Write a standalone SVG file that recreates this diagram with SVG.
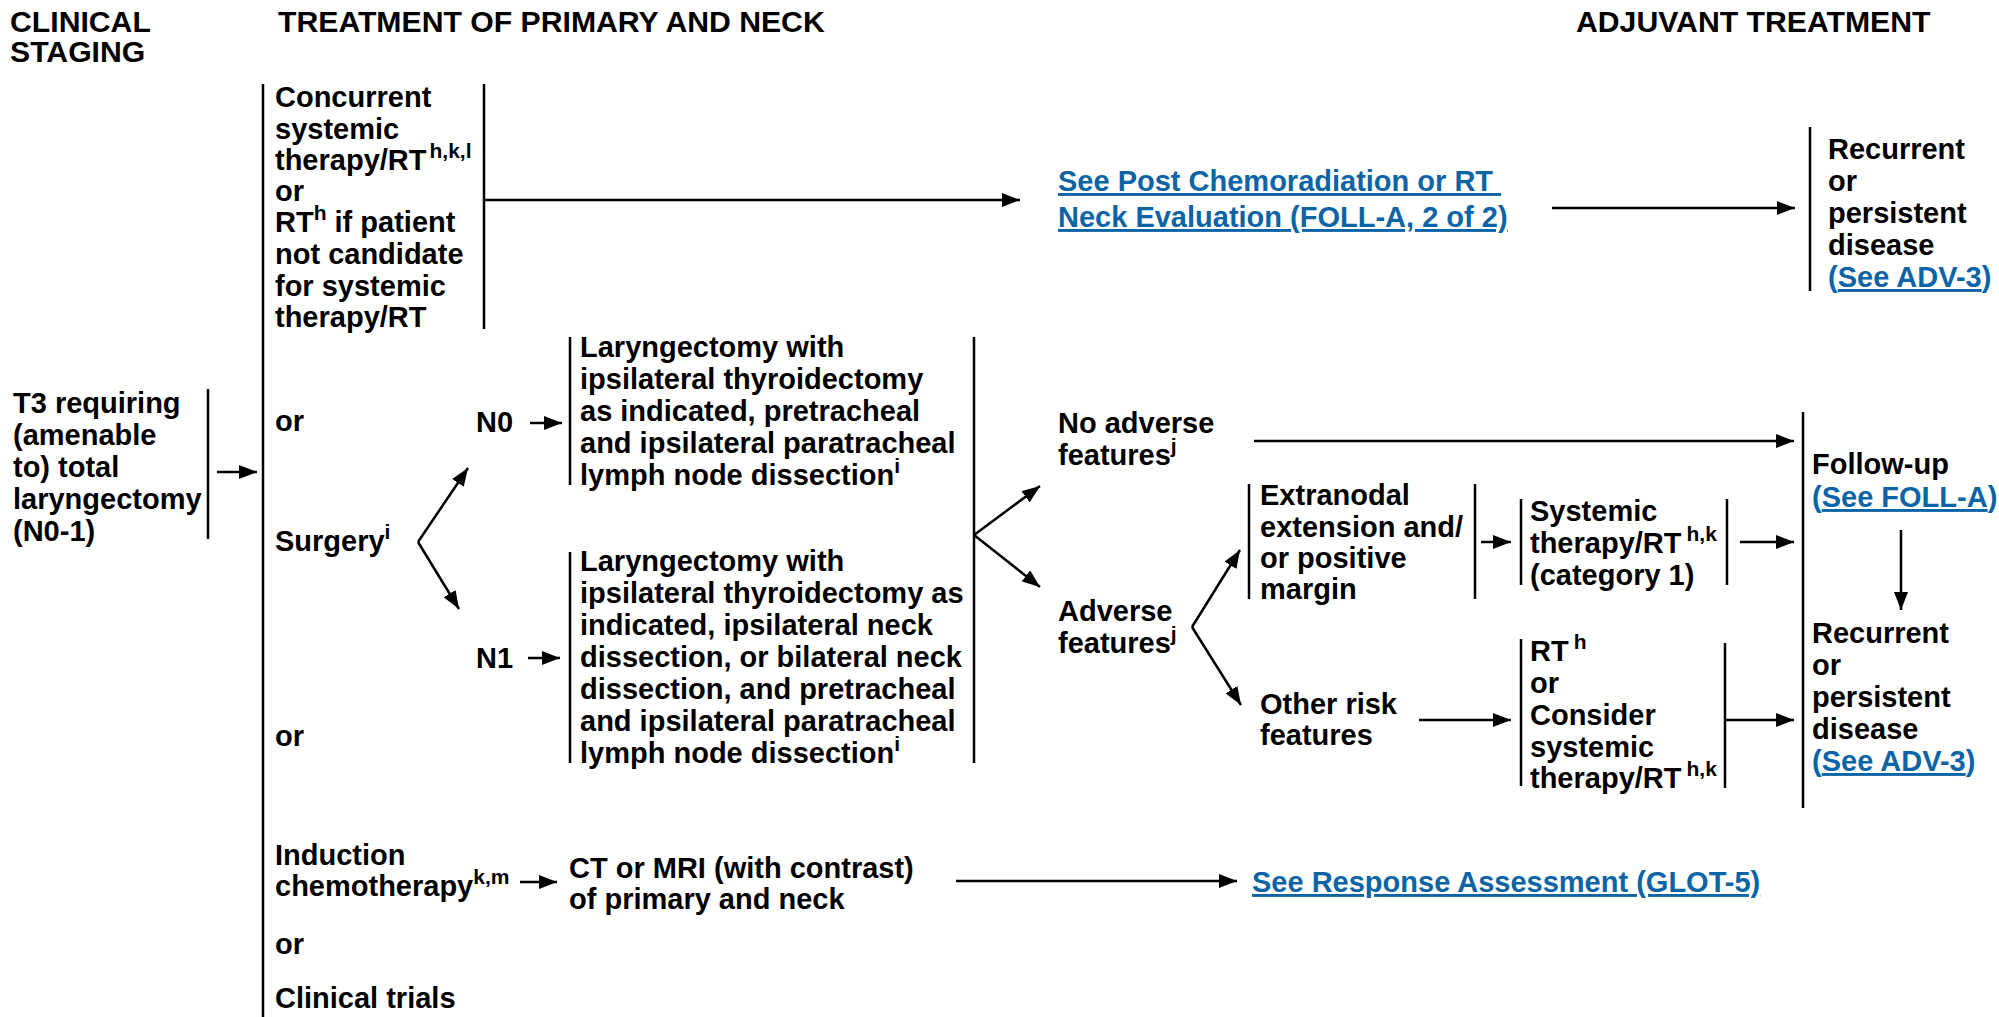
<svg xmlns="http://www.w3.org/2000/svg" width="1999" height="1017" viewBox="0 0 1999 1017">
<defs>
<style>
text { font-family: "Liberation Sans", Arial, Helvetica, sans-serif; font-weight: bold; font-size: 29px; fill: #000; }
.head { font-size: 30.2px; }
.sup { font-size: 21px; }
.link { fill: #0b64a6; }
.u { text-decoration: underline; }
.bar { stroke: #000; stroke-width: 2.5; fill: none; }
.conn { stroke: #000; stroke-width: 2.5; fill: none; }
.arr { marker-end: url(#ah); }
</style>
<marker id="ah" markerUnits="userSpaceOnUse" markerWidth="20" markerHeight="14" refX="18" refY="7" orient="auto">
<path d="M0,0 L18,7 L0,14 z" fill="#000"/>
</marker>
</defs>
<rect width="1999" height="1017" fill="#fff"/>

<!-- column headings -->
<g id="headings">
<text class="head" x="10" y="32">CLINICAL</text>
<text class="head" x="10" y="62">STAGING</text>
<text class="head" x="278" y="32">TREATMENT OF PRIMARY AND NECK</text>
<text class="head" x="1576" y="32">ADJUVANT TREATMENT</text>
</g>

<!-- clinical staging -->
<g id="staging">
<text>
<tspan x="13" y="413">T3 requiring</tspan>
<tspan x="13" y="445">(amenable</tspan>
<tspan x="13" y="477">to) total</tspan>
<tspan x="13" y="509">laryngectomy</tspan>
<tspan x="13" y="541">(N0-1)</tspan>
</text>
<line class="bar" x1="208" y1="389" x2="208" y2="539"/>
</g>

<!-- treatment options trunk -->
<g id="trunk">
<line class="bar" x1="263" y1="84" x2="263" y2="1017"/>
</g>

<g id="concurrent">
<text>
<tspan x="275" y="107">Concurrent</tspan>
<tspan x="275" y="139">systemic</tspan>
<tspan x="275" y="170">therapy/RT<tspan class="sup" dx="3" dy="-12">h,k,l</tspan></tspan>
<tspan x="275" y="201">or</tspan>
<tspan x="275" y="232">RT<tspan class="sup" dy="-12">h</tspan><tspan dy="12"> if patient</tspan></tspan>
<tspan x="275" y="264">not candidate</tspan>
<tspan x="275" y="296">for systemic</tspan>
<tspan x="275" y="327">therapy/RT</tspan>
</text>
<line class="bar" x1="484" y1="84" x2="484" y2="329"/>
</g>

<g id="or-1"><text x="275" y="431">or</text></g>
<g id="surgery"><text x="275" y="551">Surgery<tspan class="sup" dy="-12">i</tspan></text></g>
<g id="or-2"><text x="275" y="746">or</text></g>

<g id="n0"><text x="476" y="432">N0</text></g>
<g id="n1"><text x="476" y="668">N1</text></g>

<g id="laryngectomy-n0">
<line class="bar" x1="570" y1="337" x2="570" y2="485"/>
<text>
<tspan x="580" y="357">Laryngectomy with</tspan>
<tspan x="580" y="389">ipsilateral thyroidectomy</tspan>
<tspan x="580" y="421">as indicated, pretracheal</tspan>
<tspan x="580" y="453">and ipsilateral paratracheal</tspan>
<tspan x="580" y="485">lymph node dissection<tspan class="sup" dy="-12">i</tspan></tspan>
</text>
</g>

<g id="laryngectomy-n1">
<line class="bar" x1="570" y1="552" x2="570" y2="763"/>
<text>
<tspan x="580" y="571">Laryngectomy with</tspan>
<tspan x="580" y="603">ipsilateral thyroidectomy as</tspan>
<tspan x="580" y="635">indicated, ipsilateral neck</tspan>
<tspan x="580" y="667">dissection, or bilateral neck</tspan>
<tspan x="580" y="699">dissection, and pretracheal</tspan>
<tspan x="580" y="731">and ipsilateral paratracheal</tspan>
<tspan x="580" y="763">lymph node dissection<tspan class="sup" dy="-12">i</tspan></tspan>
</text>
</g>

<g id="surgery-bracket">
<line class="bar" x1="974" y1="337" x2="974" y2="763"/>
</g>

<g id="post-chemoradiation">
<text class="link">
<tspan class="u" x="1058" y="191">See Post Chemoradiation or RT&#160;</tspan>
<tspan class="u" x="1058" y="227">Neck Evaluation (FOLL-A, 2 of 2)</tspan>
</text>
</g>

<g id="recurrent-top">
<line class="bar" x1="1810" y1="127" x2="1810" y2="291"/>
<text>
<tspan x="1828" y="159">Recurrent</tspan>
<tspan x="1828" y="191">or</tspan>
<tspan x="1828" y="223">persistent</tspan>
<tspan x="1828" y="255">disease</tspan>
<tspan x="1828" y="287" class="link">(<tspan class="u">See ADV-3</tspan>)</tspan>
</text>
</g>

<g id="no-adverse">
<text>
<tspan x="1058" y="433">No adverse</tspan>
<tspan x="1058" y="465">features<tspan class="sup" dy="-12">j</tspan></tspan>
</text>
</g>

<g id="adverse">
<text>
<tspan x="1058" y="621">Adverse</tspan>
<tspan x="1058" y="653">features<tspan class="sup" dy="-12">j</tspan></tspan>
</text>
</g>

<g id="extranodal">
<line class="bar" x1="1249" y1="484" x2="1249" y2="599"/>
<text>
<tspan x="1260" y="505">Extranodal</tspan>
<tspan x="1260" y="537">extension and/</tspan>
<tspan x="1260" y="568">or positive</tspan>
<tspan x="1260" y="599">margin</tspan>
</text>
<line class="bar" x1="1475" y1="484" x2="1475" y2="599"/>
</g>

<g id="systemic-cat1">
<line class="bar" x1="1521" y1="499" x2="1521" y2="585"/>
<text>
<tspan x="1530" y="521">Systemic</tspan>
<tspan x="1530" y="553">therapy/RT<tspan class="sup" dx="5" dy="-12">h,k</tspan></tspan>
<tspan x="1530" y="585">(category 1)</tspan>
</text>
<line class="bar" x1="1727" y1="499" x2="1727" y2="585"/>
</g>

<g id="other-risk">
<text>
<tspan x="1260" y="714">Other risk</tspan>
<tspan x="1260" y="745">features</tspan>
</text>
</g>

<g id="rt-or-systemic">
<line class="bar" x1="1521" y1="639" x2="1521" y2="786"/>
<text>
<tspan x="1530" y="661">RT<tspan class="sup" dx="5" dy="-12">h</tspan></tspan>
<tspan x="1530" y="693">or</tspan>
<tspan x="1530" y="725">Consider</tspan>
<tspan x="1530" y="757">systemic</tspan>
<tspan x="1530" y="788">therapy/RT<tspan class="sup" dx="5" dy="-12">h,k</tspan></tspan>
</text>
<line class="bar" x1="1725" y1="643" x2="1725" y2="788"/>
</g>

<g id="follow-up">
<line class="bar" x1="1803" y1="412" x2="1803" y2="808"/>
<text>
<tspan x="1812" y="474">Follow-up</tspan>
<tspan x="1812" y="507" class="link">(<tspan class="u">See FOLL-A</tspan>)</tspan>
</text>
</g>

<g id="recurrent-bottom">
<text>
<tspan x="1812" y="643">Recurrent</tspan>
<tspan x="1812" y="675">or</tspan>
<tspan x="1812" y="707">persistent</tspan>
<tspan x="1812" y="739">disease</tspan>
<tspan x="1812" y="771" class="link">(<tspan class="u">See ADV-3</tspan>)</tspan>
</text>
</g>

<g id="induction">
<text>
<tspan x="275" y="865">Induction</tspan>
<tspan x="275" y="896">chemotherapy<tspan class="sup" dy="-12">k,m</tspan></tspan>
</text>
</g>

<g id="imaging">
<text>
<tspan x="569" y="878">CT or MRI (with contrast)</tspan>
<tspan x="569" y="909">of primary and neck</tspan>
</text>
</g>

<g id="response-assessment">
<text class="link"><tspan class="u" x="1252" y="892">See Response Assessment (GLOT-5)</tspan></text>
</g>

<g id="or-3"><text x="275" y="954">or</text></g>
<g id="clinical-trials"><text x="275" y="1008">Clinical trials</text></g>

<!-- connectors -->
<g id="connectors">
<line class="conn arr" x1="217" y1="472" x2="257" y2="472"/>
<line class="conn arr" x1="484" y1="200" x2="1020" y2="200"/>
<line class="conn arr" x1="1552" y1="208" x2="1795" y2="208"/>
<line class="conn arr" x1="418" y1="542" x2="468" y2="468"/>
<line class="conn arr" x1="418" y1="542" x2="459" y2="609"/>
<line class="conn arr" x1="530" y1="423" x2="562" y2="423"/>
<line class="conn arr" x1="528" y1="658" x2="560" y2="658"/>
<line class="conn arr" x1="974" y1="535" x2="1040" y2="486"/>
<line class="conn arr" x1="974" y1="535" x2="1040" y2="587"/>
<line class="conn arr" x1="1254" y1="441" x2="1794" y2="441"/>
<line class="conn arr" x1="1192" y1="627" x2="1240" y2="550"/>
<line class="conn arr" x1="1192" y1="627" x2="1241" y2="705"/>
<line class="conn arr" x1="1481" y1="542" x2="1511" y2="542"/>
<line class="conn arr" x1="1740" y1="542" x2="1794" y2="542"/>
<line class="conn arr" x1="1419" y1="720" x2="1511" y2="720"/>
<line class="conn arr" x1="1725" y1="720" x2="1794" y2="720"/>
<line class="conn arr" x1="1901" y1="530" x2="1901" y2="610"/>
<line class="conn arr" x1="520" y1="882" x2="557" y2="882"/>
<line class="conn arr" x1="956" y1="881" x2="1237" y2="881"/>
</g>
</svg>
